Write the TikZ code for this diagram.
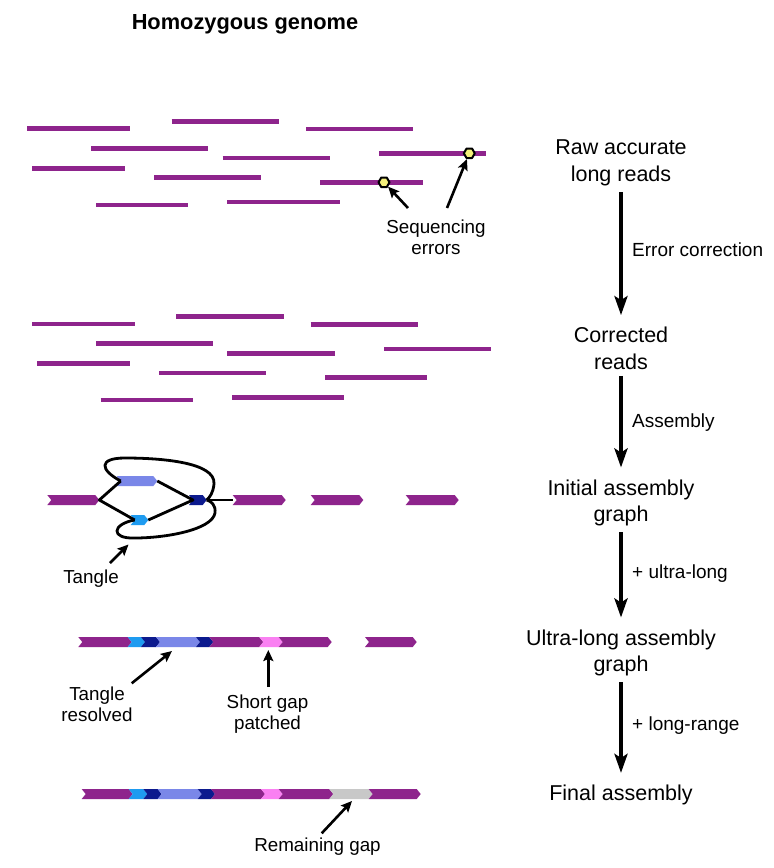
\documentclass[tikz,border=0pt]{standalone}
\usepackage{fontspec}
\setmainfont{Liberation Sans}
\usetikzlibrary{arrows.meta}
\definecolor{rd}{HTML}{8E248C}
\definecolor{peri}{HTML}{7A87E8}
\definecolor{lblue}{HTML}{1E9BF0}
\definecolor{dblue}{HTML}{0C1A8E}
\definecolor{pinkc}{HTML}{FA80F2}
\definecolor{grayc}{HTML}{C8C8C8}
\definecolor{errfill}{HTML}{F4F07A}
\newcommand{\chev}[4]{%
  \fill[#4] ({#1-4},{#3-5}) -- ({#2-4},{#3-5}) -- (#2,#3) -- ({#2-4},{#3+5}) -- ({#1-4},{#3+5}) -- (#1,#3) -- cycle;}
\tikzset{
  read/.style={rd, line width=4.8pt},
  biglab/.style={font=\fontsize{21.5}{26.5}\selectfont, align=center, inner sep=0pt},
  smalllab/.style={font=\fontsize{18.8}{21}\selectfont, align=center, inner sep=0pt},
  steplab/.style={font=\fontsize{19}{22}\selectfont, anchor=base west, inner sep=0pt},
  bigarr/.style={line width=4pt, -{Stealth[length=19pt,width=13pt,inset=4pt]}},
  smallarr/.style={line width=2.6pt, -{Stealth[length=11pt,width=10pt,inset=2pt]}},
  errdot/.style={regular polygon, regular polygon sides=6, draw=black, line width=2pt, fill=errfill, minimum size=11pt, inner sep=0pt, line join=round},
  tangleline/.style={line width=2.8pt, line join=round}
}
\usetikzlibrary{shapes.geometric}
\begin{document}
\begin{tikzpicture}[x=1pt, y=-1pt]
\useasboundingbox (0,0) rectangle (774,868);
\fill[white] (0,0) rectangle (774,868);

% title
\node[font=\fontsize{21.8}{26}\selectfont\bfseries, anchor=base, inner sep=0pt] (title) at (245,29) {Homozygous genome};

% raw reads
\draw[read] (27,128.7) -- (130,128.7);
\draw[read] (171.7,121.3) -- (278.7,121.3);
\draw[read] (306,129) -- (412.7,129);
\draw[read] (91.3,148.3) -- (207.7,148.3);
\draw[read] (222.7,158) -- (329.7,158);
\draw[read] (379,153.7) -- (486,153.7);
\draw[read] (32.3,168.3) -- (125,168.3);
\draw[read] (154.3,177.7) -- (261.3,177.7);
\draw[read] (320.3,182.3) -- (422.7,182.3);
\draw[read] (96,205) -- (188.3,205);
\draw[read] (227.3,202) -- (339.7,202);

\node[errdot] (err1) at (384,182.3) {};
\node[errdot] (err2) at (469.3,153.3) {};
\node[smalllab] (seqlab) at (436,237) {Sequencing\\errors};
\coordinate (s1) at (408,208);
\coordinate (s2) at (447,208);
\draw[smallarr] (s1) -- (err1);
\draw[smallarr] (s2) -- (err2);

% corrected reads
\draw[read] (32.3,324) -- (134.7,324);
\draw[read] (176.3,316.7) -- (283.7,316.7);
\draw[read] (310.7,324.3) -- (417.7,324.3);
\draw[read] (96,343.7) -- (212.7,343.7);
\draw[read] (227.3,353.3) -- (334.7,353.3);
\draw[read] (384,349) -- (491,349);
\draw[read] (37.3,363.7) -- (129.7,363.7);
\draw[read] (159.3,373) -- (266.3,373);
\draw[read] (325.3,377.7) -- (427.3,377.7);
\draw[read] (100.7,400) -- (193.3,400);
\draw[read] (232.3,397.3) -- (344.3,397.3);

% initial assembly graph
\chev{51.3}{99.3}{500}{rd}
\chev{120.7}{157.3}{481}{peri}
\chev{134.7}{148.3}{520}{lblue}
\chev{193}{206.7}{500}{dblue}
\chev{236.7}{285.7}{500}{rd}
\chev{314.7}{363.3}{500}{rd}
\chev{409.7}{458.7}{500}{rd}
\coordinate (L1) at (99.3,500);
\coordinate (PwL) at (120.7,481);
\coordinate (PwR) at (157.3,481);
\coordinate (LbL) at (134.7,520);
\coordinate (LbR) at (148.3,520);
\coordinate (DbL) at (193,500);
\coordinate (DbR) at (206.7,500);
\coordinate (R1) at (233,500);
\draw[tangleline] (PwL) -- (L1) -- (LbL);
\draw[tangleline] (PwR) -- (DbL) -- (LbR);
\draw[tangleline] (DbR) -- (R1);
\draw[tangleline] (PwL) .. controls (100,470) and (98,458) .. (125,458)
   .. controls (160,458) and (216,462) .. (214,484) .. controls (213,493) and (210,497) .. (DbR);
\draw[tangleline] (LbL) .. controls (112,524) and (110,539) .. (135,538)
   .. controls (165,538) and (212,530) .. (215,513) .. controls (216,505) and (211,501) .. (DbR);
\node[smalllab, anchor=base] (tanglelab) at (91,583) {Tangle};
\coordinate (tgt) at (110,563);
\coordinate (tgh) at (128.5,544.5);
\draw[smallarr] (tgt) -- (tgh);

% ultra-long assembly graph
\foreach \a/\b/\c in {82.3/131.7/rd, 131.7/145/lblue, 145/160/dblue, 160/200/peri, 200/213.3/dblue, 213.3/263.3/rd, 263.3/282.7/pinkc, 282.7/331.7/rd, 369/416.7/rd}
  {\chev{\a}{\b}{642}{\c}}
\node[smalllab] (tres) at (97,704) {Tangle\\resolved};
\coordinate (trt) at (131.7,683.3);
\coordinate (trh) at (172,651);
\draw[smallarr] (trt) -- (trh);
\node[smalllab] (sgap) at (267.5,714) {Short gap\\patched};
\coordinate (sgt) at (268.3,687);
\coordinate (sgh) at (268.3,650);
\draw[smallarr] (sgt) -- (sgh);

% final assembly
\foreach \a/\b/\c in {85.7/132.7/rd, 132.7/147.3/lblue, 147.3/161.7/dblue, 161.7/201.7/peri, 201.7/215/dblue, 215/265/rd, 265/282.7/pinkc, 282.7/333.3/rd, 333.3/372.7/grayc, 372.7/420.7/rd}
  {\chev{\a}{\b}{794}{\c}}
\node[smalllab, anchor=base] (rgap) at (317.5,851.7) {Remaining gap};
\coordinate (rgt) at (321.7,833.3);
\coordinate (rgh) at (352,801);
\draw[smallarr] (rgt) -- (rgh);

% right column
\node[biglab] (raw) at (621,163) {Raw accurate\\long reads};
\node[biglab] (corr) at (621,348.5) {Corrected\\reads};
\node[biglab] (init) at (621,503) {Initial assembly\\graph};
\node[biglab] (ultra) at (621,653) {Ultra-long assembly\\graph};
\node[biglab, anchor=base] (final) at (621,800.7) {Final assembly};

\draw[bigarr, shorten <=6pt, shorten >=12pt] (raw) -- (corr);
\draw[bigarr, shorten <=6pt, shorten >=12pt] (corr) -- (init);
\draw[bigarr, shorten <=6pt, shorten >=12pt] (init) -- (ultra);
\draw[bigarr, shorten <=6pt, shorten >=12pt] (ultra) -- (final);

\node[steplab] (ec) at (632,256) {Error correction};
\node[steplab] (as) at (632,427.7) {Assembly};
\node[steplab] (ul) at (632,578.3) {+ ultra-long};
\node[steplab] (lr) at (632,730) {+ long-range};
\end{tikzpicture}
\end{document}
